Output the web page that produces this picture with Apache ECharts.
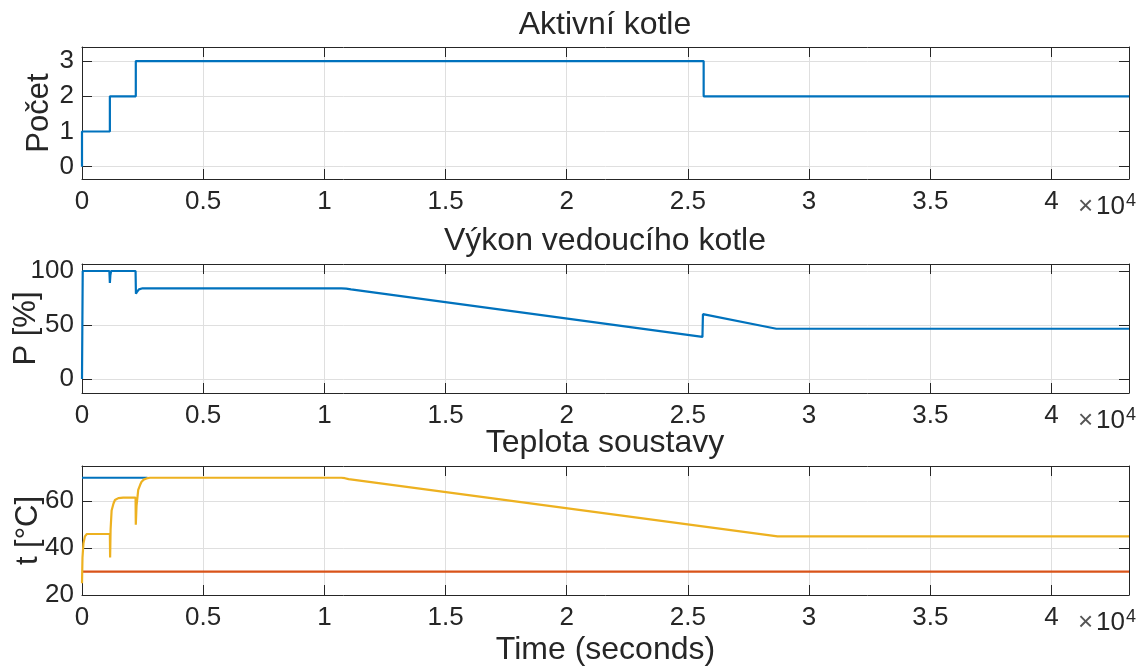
<!DOCTYPE html>
<html>
<head>
<meta charset="utf-8">
<script src="https://cdn.jsdelivr.net/npm/echarts@6/dist/echarts.min.js"></script>
<style>html,body{margin:0;padding:0;background:#fff;}#c{width:1146px;height:668px;}</style>
</head>
<body>
<div id="c"></div>
<script>
// ---- Data (time in seconds) ----
const xTicks = [0, 5000, 10000, 15000, 20000, 25000, 30000, 35000, 40000];
const xMax = 43200;

// Aktivní kotle (count of active boilers)
const countT = [0, 0, 1150, 1150, 2220, 2220, 25650, 25650, 43200];
const countV = [0, 1, 1, 2, 2, 3, 3, 2, 2];
const countTicks = [0, 1, 2, 3];

// Výkon vedoucího kotle [%]
const powerT = [0, 30, 1130, 1150, 1170, 1200, 2210, 2225, 2280, 2350, 2500, 10700, 10900, 11100, 25600, 25620, 28650, 43200];
const powerV = [0, 100, 100, 89, 96, 100, 100, 79, 81, 83, 84, 84, 83.7, 83, 39, 60, 46.5, 46.5];
const powerTicks = [0, 50, 100];

// Teplota soustavy [°C]
const setT = [0, 2700];
const setV = [70, 70];
const retT = [0, 43200];
const retV = [30, 30];
const sysT = [0, 20, 60, 120, 200, 1150, 1160, 1180, 1222, 1300, 1360, 1500, 1700, 2210, 2220, 2250, 2320, 2400, 2458, 2560, 2665, 2800, 10700, 10850, 11000, 28700, 43200];
const sysV = [25, 36, 42, 45, 46, 46, 36, 48, 56, 59, 60.5, 61.3, 61.5, 61.5, 50, 58, 64.8, 67, 68.3, 69.3, 69.7, 70, 70, 69.8, 69.4, 45, 45];
const tempTicks = [20, 40, 60];

const titles = ['Aktivní kotle', 'Výkon vedoucího kotle', 'Teplota soustavy'];
const yNames = ['Počet', 'P [%]', 't [°C]'];

function pairs(t, v) { return t.map((x, i) => [x, v[i]]); }

const FONT = "'Liberation Sans', Arial, Helvetica, sans-serif";
const TXT = '#262626';
const grids = [
  { left: 82, right: 17, top: 47, height: 132, outerBoundsMode: 'none', containLabel: false },
  { left: 82, right: 17, top: 264, height: 129, outerBoundsMode: 'none', containLabel: false },
  { left: 82, right: 17, top: 466, height: 129, outerBoundsMode: 'none', containLabel: false }
];
const yRanges = [[-0.35, 3.4], [-13, 106.5], [20, 75]];
const yTicks = [countTicks, powerTicks, tempTicks];
const yNameGaps = [27, 40, 38];

const xAxes = [], yAxes = [];
grids.forEach((g, i) => {
  const common = {
    type: 'value', gridIndex: i, min: 0, max: xMax,
    axisLine: { show: true, onZero: false, lineStyle: { color: TXT, width: 1 } },
    axisTick: { show: true, inside: true, length: 10, customValues: xTicks, lineStyle: { color: TXT, width: 1 } },
  };
  xAxes.push(Object.assign({}, common, {
    position: 'bottom',
    axisLabel: { show: true, customValues: xTicks, formatter: v => String(v / 1e4), fontSize: 26, color: TXT, fontFamily: FONT, margin: 10 },
    splitLine: { show: true, lineStyle: { color: '#dfdfdf', width: 1 } },
    name: i === 2 ? 'Time (seconds)' : '',
    nameLocation: 'middle', nameGap: 39, nameMoveOverlap: false,
    nameTextStyle: { fontSize: 32, color: TXT, fontFamily: FONT }
  }));
  xAxes.push(Object.assign({}, common, {
    position: 'top', axisLabel: { show: false }, splitLine: { show: false }
  }));
  const yc = {
    type: 'value', gridIndex: i, min: yRanges[i][0], max: yRanges[i][1],
    axisLine: { show: true, onZero: false, lineStyle: { color: TXT, width: 1 } },
    axisTick: { show: true, inside: true, length: 10, customValues: yTicks[i], lineStyle: { color: TXT, width: 1 } },
  };
  yAxes.push(Object.assign({}, yc, {
    position: 'left',
    axisLabel: { show: true, customValues: yTicks[i], fontSize: 26, color: TXT, fontFamily: FONT, margin: 8 },
    splitLine: { show: true, lineStyle: { color: '#dfdfdf', width: 1 } },
    name: yNames[i], nameLocation: 'middle', nameGap: yNameGaps[i], nameMoveOverlap: false,
    nameTextStyle: { fontSize: 31, color: TXT, fontFamily: FONT }
  }));
  yAxes.push(Object.assign({}, yc, {
    position: 'right', axisLabel: { show: false }, splitLine: { show: false }
  }));
});

const lineBase = { type: 'line', showSymbol: false, symbol: 'none', animation: false, lineStyle: { width: 2.2 } };
const series = [
  Object.assign({}, lineBase, { xAxisIndex: 0, yAxisIndex: 0, data: pairs(countT, countV), color: '#0072BD' }),
  Object.assign({}, lineBase, { xAxisIndex: 2, yAxisIndex: 2, data: pairs(powerT, powerV), color: '#0072BD' }),
  Object.assign({}, lineBase, { xAxisIndex: 4, yAxisIndex: 4, data: pairs(setT, setV), color: '#0072BD' }),
  Object.assign({}, lineBase, { xAxisIndex: 4, yAxisIndex: 4, data: pairs(retT, retV), color: '#D95319' }),
  Object.assign({}, lineBase, { xAxisIndex: 4, yAxisIndex: 4, data: pairs(sysT, sysV), color: '#EDB120' })
];

const titleTops = [9, 225, 427];
const title = titles.map((t, i) => ({
  text: t, left: 605, top: titleTops[i], textAlign: 'center', padding: 0,
  textStyle: { fontSize: 32, fontWeight: 'normal', color: TXT, fontFamily: FONT }
}));

const expBaselines = [213, 427, 629];
const graphic = [];
expBaselines.forEach(b => {
  graphic.push({ type: 'text', left: 1078, top: b - 19, style: { text: '×', fill: '#555', font: "26px 'Liberation Sans', Arial, sans-serif" } });
  graphic.push({ type: 'text', left: 1096, top: b - 19, style: { text: '10', fill: TXT, font: "26px 'Liberation Sans', Arial, sans-serif" } });
  graphic.push({ type: 'text', left: 1126, top: b - 21, style: { text: '4', fill: TXT, font: "18px 'Liberation Sans', Arial, sans-serif" } });
});

const chart = echarts.init(document.getElementById('c'), null, { renderer: 'canvas' });
chart.setOption({
  animation: false,
  backgroundColor: '#fff',
  title, grid: grids, xAxis: xAxes, yAxis: yAxes, series, graphic
});
</script>
</body>
</html>
